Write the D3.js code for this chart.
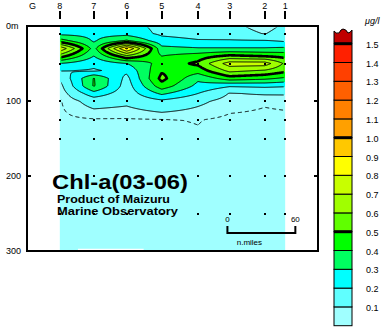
<!DOCTYPE html>
<html><head><meta charset="utf-8">
<script src="https://cdn.jsdelivr.net/npm/d3@7"></script>
<style>
body{margin:0;background:#fff}
svg{display:block}
text{font-family:"Liberation Sans",Arial,Helvetica,sans-serif;fill:#000}
</style></head><body>
<svg id="chart" width="390" height="330"></svg>
<script>
// Stations along the section (left to right) and their distance from G, n.miles
const stations = ["8", "7", "6", "5", "4", "3", "2", "1"];
const stationDist = [29, 59, 88, 119, 151, 179, 210, 228];
// Sampling depths of the analysed grid, m
const depths = [0, 10, 20, 30, 40, 50, 60, 70, 80, 90, 100, 125, 150, 200, 250, 300];
// Chlorophyll-a (μg/l) per station, one value per depth above
const st8 = [0.25, 0.27, 0.45, 0.78, 0.55, 0.30, 0.20, 0.11, 0.07, 0.055, 0.045, 0.04, 0.035, 0.03, 0.03, 0.03];
const st7 = [0.25, 0.27, 0.29, 0.36, 0.30, 0.22, 0.19, 0.405, 0.41, 0.26, 0.14, 0.045, 0.035, 0.03, 0.03, 0.03];
const st6 = [0.24, 0.26, 0.42, 0.92, 0.58, 0.30, 0.22, 0.17, 0.15, 0.14, 0.12, 0.045, 0.035, 0.03, 0.03, 0.03];
const st5 = [0.17, 0.18, 0.24, 0.33, 0.40, 0.44, 0.49, 0.53, 0.46, 0.32, 0.18, 0.048, 0.035, 0.03, 0.03, 0.03];
const st4 = [0.15, 0.16, 0.21, 0.31, 0.45, 0.52, 0.44, 0.32, 0.27, 0.20, 0.12, 0.052, 0.045, 0.03, 0.03, 0.03];
const st3 = [0.13, 0.15, 0.21, 0.31, 0.52, 0.75, 0.62, 0.45, 0.21, 0.095, 0.07, 0.04, 0.035, 0.03, 0.03, 0.03];
const st2 = [0.06, 0.095, 0.21, 0.31, 0.49, 0.75, 0.58, 0.42, 0.22, 0.11, 0.055, 0.04, 0.035, 0.03, 0.03, 0.03];
const st1 = [0.12, 0.15, 0.19, 0.32, 0.47, 0.58, 0.52, 0.38, 0.21, 0.11, 0.06, 0.04, 0.035, 0.03, 0.03, 0.03];
const profiles = [st8, st7, st6, st5, st4, st3, st2, st1];
// Depths marked with observation dots
const obsDepths = [10, 50, 100, 125, 150, 200, 250];
// Colour classes: < 0.1, 0.1-0.2, ..., 1.4-1.5, > 1.5
const levels = [0.1, 0.2, 0.3, 0.4, 0.5, 0.6, 0.7, 0.8, 0.9, 1.0, 1.1, 1.2, 1.3, 1.4, 1.5];
const levelLabels = ["0.1", "0.2", "0.3", "0.4", "0.5", "0.6", "0.7", "0.8", "0.9", "1.0", "1.1", "1.2", "1.3", "1.4", "1.5"];
const palette = ["#a0ffff", "#60ffff", "#00ffff", "#00ff60", "#00ff00", "#60ff00", "#a0ff00", "#c8ff00",
  "#ffff00", "#ffc800", "#ffa000", "#ff8000", "#ff6000", "#ff4000", "#ff2000", "#c00000"];
const thickLevels = [0.5, 1.0, 1.5];
const dashedLevel = 0.05;
const depthTicks = [0, 100, 200, 300];
const depthTickLabels = ["0m", "100", "200", "300"];
const scaleBarMiles = [0, 60];

const svg = d3.select("#chart");
const x = d3.scaleLinear().domain([0, 257]).range([27, 318]);
const y = d3.scaleLinear().domain([0, 300]).range([26, 251]);

// ---- gridded field (bilinear between stations / depths) ----
const x0 = x(stationDist[0]), x1 = x(stationDist[stationDist.length - 1]);
const y0 = y(0), y1 = y(300);
const nx = Math.round(x1 - x0), ny = Math.round(y1 - y0);
const kx = (x1 - x0) / nx, ky = (y1 - y0) / ny;

function field(d, z) {
  const ns = stationDist.length, nd = depths.length;
  const i = Math.min(Math.max(d3.bisectRight(stationDist, d) - 1, 0), ns - 2);
  const j = Math.min(Math.max(d3.bisectRight(depths, z) - 1, 0), nd - 2);
  const tx = Math.min(Math.max((d - stationDist[i]) / (stationDist[i + 1] - stationDist[i]), 0), 1);
  const tz = Math.min(Math.max((z - depths[j]) / (depths[j + 1] - depths[j]), 0), 1);
  const a = profiles[i][j], b = profiles[i + 1][j], c = profiles[i][j + 1], e = profiles[i + 1][j + 1];
  return a * (1 - tx) * (1 - tz) + b * tx * (1 - tz) + c * (1 - tx) * tz + e * tx * tz;
}

const values = new Float64Array(nx * ny);
for (let j = 0; j < ny; j++) {
  const z = y.invert(y0 + (j + 0.5) * ky);
  for (let i = 0; i < nx; i++) {
    values[j * nx + i] = field(x.invert(x0 + (i + 0.5) * kx), z);
  }
}

const toPx = d3.geoTransform({
  point(gx, gy) { this.stream.point(x0 + gx * kx, y0 + gy * ky); }
});
const path = d3.geoPath(toPx);
const bands = d3.contours().size([nx, ny]).thresholds(levels)(values);
const dashed = d3.contours().size([nx, ny]).thresholds([dashedLevel])(values);

svg.append("defs").append("clipPath").attr("id", "inner")
  .append("rect").attr("x", x0 + 1.5).attr("y", y0 + 1.5)
  .attr("width", x1 - x0 - 3).attr("height", y1 - y0 - 3);

// filled classes
svg.append("rect").attr("x", x0).attr("y", y0).attr("width", x1 - x0).attr("height", y1 - y0)
  .attr("fill", palette[0]);
svg.append("g").selectAll("path").data(bands).join("path")
  .attr("d", path)
  .attr("fill", (d, k) => palette[k + 1])
  .attr("shape-rendering", "crispEdges");

// isolines
const lines = svg.append("g").attr("clip-path", "url(#inner)").attr("fill", "none").attr("stroke", "#000");
lines.selectAll("path.iso").data(bands).join("path").attr("class", "iso")
  .attr("d", path)
  .attr("stroke-width", d => thickLevels.some(t => Math.abs(t - d.value) < 1e-9) ? 2.6 : 1)
  .attr("stroke-linejoin", "round");
lines.selectAll("path.half").data(dashed).join("path").attr("class", "half")
  .attr("d", path).attr("stroke-width", 1).attr("stroke-dasharray", "4,3");

// observation dots
const dots = [];
stationDist.forEach(d => obsDepths.forEach(z => dots.push([d, z])));
svg.append("g").selectAll("rect").data(dots).join("rect")
  .attr("x", d => Math.round(x(d[0])) - 1).attr("y", d => Math.round(y(d[1])) - 1)
  .attr("width", 2).attr("height", 2).attr("fill", "#000");

// seabed strip at the bottom of the section
svg.append("rect").attr("x", x(45)).attr("y", y(297)).attr("width", x(103) - x(45)).attr("height", y(300) - y(297))
  .attr("fill", "#fff");

// frame
svg.append("rect").attr("x", 27).attr("y", 26).attr("width", 291).attr("height", 225)
  .attr("fill", "none").attr("stroke", "#000").attr("stroke-width", 2);

// depth axis
const yt = svg.append("g");
depthTicks.forEach((t, k) => {
  yt.append("text").attr("x", 6).attr("y", y(t)).attr("dy", "0.35em")
    .attr("font-size", 9).text(depthTickLabels[k]);
  if (t > 0 && t < 300) {
    yt.append("rect").attr("x", 27).attr("y", y(t) - 1).attr("width", 4).attr("height", 2);
    yt.append("rect").attr("x", 314).attr("y", y(t) - 1).attr("width", 4).attr("height", 2);
  }
});

// station axis
const xt = svg.append("g");
xt.append("text").attr("x", 29).attr("y", 9).attr("font-size", 9).text("G");
stations.forEach((s, k) => {
  const sx = x(stationDist[k]);
  xt.append("text").attr("x", sx).attr("y", 9).attr("text-anchor", "middle").attr("font-size", 9).text(s);
  xt.append("rect").attr("x", Math.round(sx) - 1).attr("y", 11).attr("width", 2).attr("height", 8);
});

// titles
svg.append("text").attr("x", 52).attr("y", 189).attr("font-size", 21).attr("font-weight", "bold")
  .attr("textLength", 136).attr("lengthAdjust", "spacingAndGlyphs").text("Chl-a(03-06)");
svg.append("text").attr("x", 57).attr("y", 203).attr("font-size", 10.5).attr("font-weight", "bold")
  .attr("textLength", 113).attr("lengthAdjust", "spacingAndGlyphs").text("Product of Maizuru");
svg.append("text").attr("x", 57).attr("y", 214.5).attr("font-size", 10.5).attr("font-weight", "bold")
  .attr("textLength", 121).attr("lengthAdjust", "spacingAndGlyphs").text("Marine Observatory");

// distance scale bar
const sbx0 = x(177), sbx1 = x(177 + scaleBarMiles[1]);
const sb = svg.append("g");
sb.append("path").attr("d", `M${sbx0},226V233H${sbx1}V226`).attr("fill", "none")
  .attr("stroke", "#000").attr("stroke-width", 2);
sb.append("text").attr("x", sbx0).attr("y", 222).attr("text-anchor", "middle").attr("font-size", 8).text(scaleBarMiles[0]);
sb.append("text").attr("x", sbx1).attr("y", 222).attr("text-anchor", "middle").attr("font-size", 8).text(scaleBarMiles[1]);
sb.append("text").attr("x", (sbx0 + sbx1) / 2 - 12).attr("y", 245).attr("text-anchor", "middle").attr("font-size", 8).text("n.miles");

// colour bar
const ly = d3.scaleLinear().domain([0, 1.5]).range([325.7, 43.7]);
const lx = 334, lw = 18;
const leg = svg.append("g");
palette.slice(0, 15).forEach((c, k) => {
  leg.append("rect").attr("x", lx).attr("y", ly((k + 1) / 10)).attr("width", lw)
    .attr("height", ly(k / 10) - ly((k + 1) / 10)).attr("fill", c).attr("stroke", "#000").attr("stroke-width", 1);
});
leg.append("path")
  .attr("d", `M${lx},${ly(1.5)}V31Q336,34 339,33Q341,29 343,29Q346,29 348,33Q350,33 ${lx + lw},30V${ly(1.5)}Z`)
  .attr("fill", palette[15]).attr("stroke", "#000").attr("stroke-width", 1);
thickLevels.forEach(t => {
  leg.append("rect").attr("x", lx).attr("y", ly(t) - 1.5).attr("width", lw).attr("height", 3).attr("fill", "#000");
});
levels.forEach((t, k) => {
  leg.append("text").attr("x", 366).attr("y", ly(t) + 1).attr("dy", "0.35em").attr("font-size", 9).text(levelLabels[k]);
});
leg.append("text").attr("x", 365).attr("y", 24).attr("font-size", 9).attr("font-style", "italic").text("μg/l");
</script>
</body></html>
